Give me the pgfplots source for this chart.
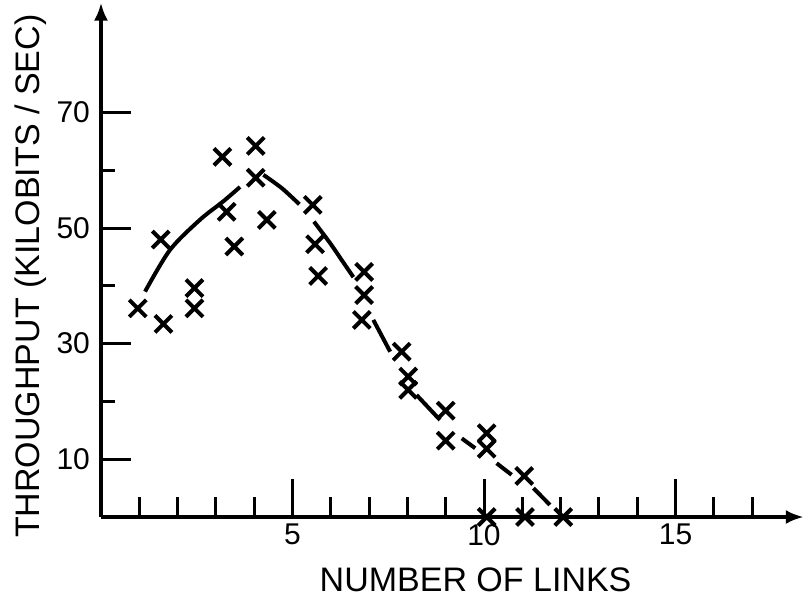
\documentclass[border=0pt]{standalone}
\usepackage{fontspec}
\setmainfont{Liberation Sans}
\usepackage{pgfplots}
\pgfplotsset{compat=1.18}
\usetikzlibrary{arrows.meta}
\begin{document}
\begin{tikzpicture}
\begin{axis}[
  x=19.15pt, y=2.89pt,
  xmin=0, xmax=18.35, ymin=0, ymax=89,
  axis lines=left,
  axis line style={line width=2pt, -{Latex[length=9pt,width=7pt]}},
  tick align=inside,
  xtick={5,10,15},
  minor xtick={1,2,3,4,6,7,8,9,11,12,13,14,16,17},
  ytick={10,30,50,70},
  minor ytick={20,40,60},
  every tick/.append style={black, line width=1.5pt},
  major tick length=17pt,
  minor tick length=8pt,
  xtick style={/pgfplots/major tick length=19pt, /pgfplots/minor tick length=10pt},
  ytick style={/pgfplots/major tick length=15pt, /pgfplots/minor tick length=7pt},
  /pgf/number format/assume math mode=true,
  ticklabel style={font=\fontsize{15}{18}\selectfont},
  yticklabel style={xshift=-2pt},
  xlabel={NUMBER OF LINKS},
  ylabel={THROUGHPUT (KILOBITS / SEC)},
  label style={font=\fontsize{17}{20}\selectfont},
  xlabel style={at={(axis description cs:0.533,-0.145)}, anchor=base},
  ylabel style={at={(axis description cs:-0.0869,0.468)}, anchor=base, rotate=0},
  clip=false,
]
\addplot[only marks, mark=x, mark size=6pt, mark options={line width=2pt}] coordinates {
(0.96,36.1) (1.56,48.0) (1.63,33.4) (2.44,39.6) (2.44,36.1)
(3.17,62.3) (3.28,52.8) (3.48,46.8) (4.04,64.2) (4.04,58.7)
(4.33,51.4) (5.53,54.0) (5.59,47.2) (5.67,41.7) (6.87,42.4)
(6.87,38.4) (6.81,34.1) (7.85,28.6) (8.02,24.3) (8.02,22.0)
(9.0,18.4) (9.0,13.2) (10.07,14.5) (10.07,11.8) (11.05,7.1)
(10.07,0) (11.07,0) (12.07,0)
};
\addplot[line width=2pt, smooth] coordinates {(1.15,39.0) (1.80,46.2) (2.58,51.4) (3.19,54.6) (3.63,57.1)};
\addplot[line width=2pt, smooth] coordinates {(4.24,59.2) (4.72,56.9) (5.18,54.1)};
\addplot[line width=2pt, smooth] coordinates {(5.56,51.1) (5.98,47.4) (6.30,44.3) (6.59,41.5)};
\addplot[line width=2pt] coordinates {(7.11,34.1) (7.55,28.6)};
\addplot[line width=2pt] coordinates {(8.24,21.1) (8.85,16.8)};
\addplot[line width=2pt] coordinates {(9.42,13.6) (9.77,11.9)};
\addplot[line width=2pt] coordinates {(10.33,9.3) (10.72,7.3)};
\addplot[line width=2pt] coordinates {(11.29,5.0) (11.72,2.1)};
\end{axis}
\pgfresetboundingbox
\path (-50.5pt,-39.5pt) rectangle (353pt,258.5pt);
\end{tikzpicture}
\end{document}
